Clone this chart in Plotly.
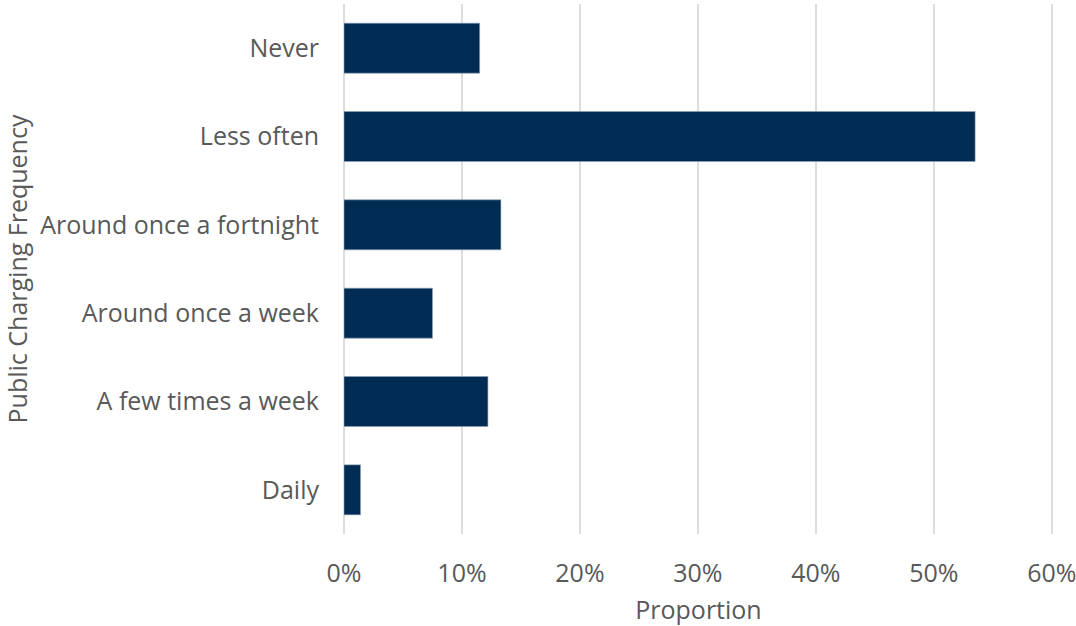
import plotly.graph_objects as go

categories = ["Never", "Less often", "Around once a fortnight", "Around once a week", "A few times a week", "Daily"]
values = [0.115, 0.535, 0.133, 0.075, 0.122, 0.014]
tick_vals = [0, 0.1, 0.2, 0.3, 0.4, 0.5, 0.6]
tick_text = ["0%", "10%", "20%", "30%", "40%", "50%", "60%"]

font_family = "Open Sans"
gray = "#595959"
fs = 25

fig = go.Figure(go.Bar(
    y=categories,
    x=values,
    orientation="h",
    marker=dict(color="#002B52", line=dict(color="#8EA2B8", width=0.6)),
    width=0.566,
))

fig.update_layout(
    width=1076, height=626,
    margin=dict(l=344, r=23, t=4, b=92),
    plot_bgcolor="white", paper_bgcolor="white",
    showlegend=False,
    font=dict(family=font_family, color=gray, size=fs),
)
fig.update_xaxes(
    range=[0, 0.601], tickvals=tick_vals, ticktext=tick_text,
    showgrid=True, gridcolor="#DDDDDD", gridwidth=1.5,
    zeroline=True, zerolinecolor="#DDDDDD", zerolinewidth=1.5,
    showline=False, ticks="", ticklen=0,
    automargin=False, ticklabelstandoff=22, ticklabeloverflow="allow",
    tickfont=dict(size=fs, color=gray, family=font_family),
    title=dict(text="Proportion", font=dict(size=fs, color=gray, family=font_family), standoff=20),
)
fig.update_yaxes(
    categoryorder="array", categoryarray=categories[::-1],
    showgrid=False, zeroline=False, showline=False, ticks="",
    automargin=False, ticklabelstandoff=24,
    tickfont=dict(size=fs, color=gray, family=font_family),
    title=dict(text="Public Charging Frequency", font=dict(size=fs, color=gray, family=font_family), standoff=22),
)

fig.write_html("out.html", config={"displayModeBar": False},
               post_script="document.body.style.margin='0';")
